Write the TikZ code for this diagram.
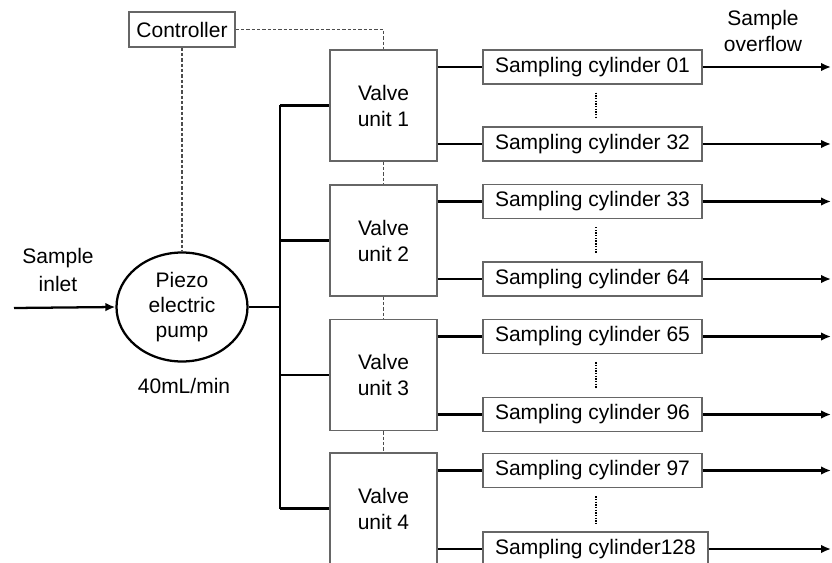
\documentclass[tikz,border=0pt]{standalone}
\usepackage{fontspec}
\setmainfont{Liberation Sans}
\usetikzlibrary{arrows.meta,shapes.geometric}
\begin{document}
\begin{tikzpicture}[x=0.75pt,y=-0.75pt,
  every node/.style={font=\fontsize{15.75}{19.5}\selectfont, inner sep=0pt, align=center},
  box/.style={draw=black!60, line width=1pt},
  valvebox/.style={box, minimum width=80.25pt, minimum height=83.25pt},
  cylbox/.style={box, minimum width=164.25pt, minimum height=25.5pt},
  flow/.style={line width=1.7pt},
  ctrl/.style={draw=black!70, line width=1.1pt, dash pattern=on 2.5pt off 1.5pt},
  dots/.style={line width=1.6pt, dash pattern=on 1pt off 1pt},
  flowarrow/.style={flow, -{Latex[length=7.5pt,width=6.5pt]}}]
\useasboundingbox (0,0) rectangle (832,563);
\clip (0,0) rectangle (832,563);

% nodes
\node[box, minimum width=79.5pt, minimum height=26.25pt] (ctrl) at (182,29.5) {Controller};
\node[ellipse, draw, line width=1.7pt, minimum width=98.25pt, minimum height=81.75pt,
      font=\fontsize{15.75}{19}\selectfont] (pump) at (182,307) {Piezo\\electric\\pump};
\node (rate) at (184,386) {40mL/min};
\node[font=\fontsize{15.75}{21}\selectfont] (inlet) at (58,270) {Sample\\inlet};
\node[font=\fontsize{15.75}{19.5}\selectfont] (overflow) at (763,31) {Sample\\overflow};
\coordinate (src) at (14,308);
\coordinate (bus) at (280,0);
\coordinate (outx) at (831,0);

\node[valvebox] (v1) at (383.5,105.5) {Valve\\unit 1};
\node[valvebox] (v2) at (383.5,240.5) {Valve\\unit 2};
\node[valvebox] (v3) at (383.5,375) {Valve\\unit 3};
\node[valvebox] (v4) at (383.5,508.5) {Valve\\unit 4};

\node[cylbox] (c01) at (592.5,67) {Sampling cylinder 01};
\node[cylbox] (c32) at (592.5,144) {Sampling cylinder 32};
\node[cylbox] (c33) at (592.5,201.5) {Sampling cylinder 33};
\node[cylbox] (c64) at (592.5,279) {Sampling cylinder 64};
\node[cylbox] (c65) at (592.5,336.5) {Sampling cylinder 65};
\node[cylbox] (c96) at (592.5,414.5) {Sampling cylinder 96};
\node[cylbox] (c97) at (592.5,470.5) {Sampling cylinder 97};
\node[cylbox, minimum width=168.75pt] (c128) at (595.5,549) {Sampling cylinder128};

% control lines
\draw[ctrl] (ctrl.east) -| (v1.north);
\draw[ctrl] (ctrl.south) -- (pump.north);
\draw[ctrl] (v1.south) -- (v2.north);
\draw[ctrl] (v2.south) -- (v3.north);
\draw[ctrl] (v3.south) -- (v4.north);

% flow lines
\draw[flowarrow] (src) -- (pump.west);
\draw[flow] (pump.east) -- (pump.east -| bus);
\draw[flow] (v1.west -| bus) -- (v4.west -| bus);
\foreach \v in {v1,v2,v3,v4} \draw[flow] (\v.west -| bus) -- (\v.west);

\draw[flow] (v1.east |- c01.west) -- (c01.west);
\draw[flow] (v1.east |- c32.west) -- (c32.west);
\draw[flow] (v2.east |- c33.west) -- (c33.west);
\draw[flow] (v2.east |- c64.west) -- (c64.west);
\draw[flow] (v3.east |- c65.west) -- (c65.west);
\draw[flow] (v3.east |- c96.west) -- (c96.west);
\draw[flow] (v4.east |- c97.west) -- (c97.west);
\draw[flow] (v4.east |- c128.west) -- (c128.west);

\foreach \c in {c01,c32,c33,c64,c65,c96,c97,c128}
  \draw[flowarrow] (\c.east) -- (\c.east -| outx);

% dotted continuation marks
\draw[dots] ([xshift=2.6pt,yshift=-6pt]c01.south) -- ([xshift=2.6pt,yshift=6pt]c32.north);
\draw[dots] ([xshift=2.6pt,yshift=-6pt]c33.south) -- ([xshift=2.6pt,yshift=6pt]c64.north);
\draw[dots] ([xshift=2.6pt,yshift=-6pt]c65.south) -- ([xshift=2.6pt,yshift=6pt]c96.north);
\draw[dots] ([xshift=2.6pt,yshift=-6pt]c97.south) -- ([xshift=0.35pt,yshift=6pt]c128.north);
\end{tikzpicture}
\end{document}
